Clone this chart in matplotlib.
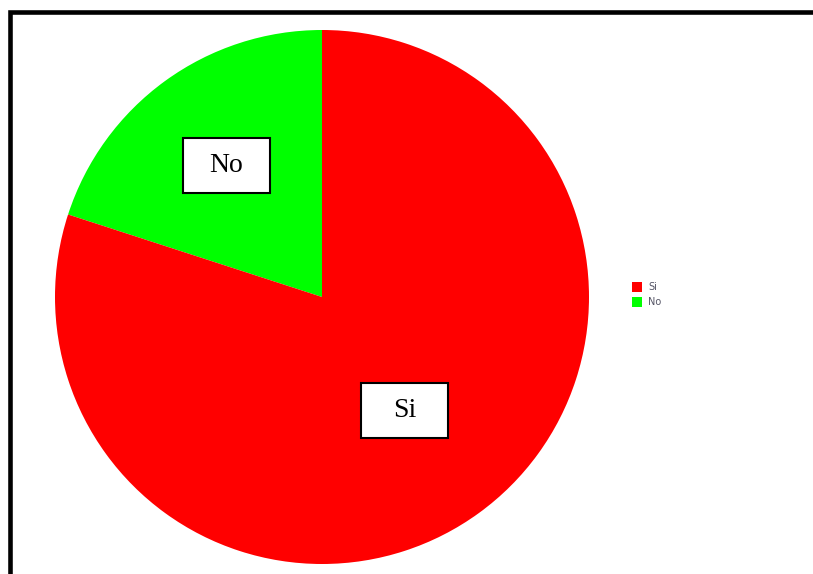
import numpy as np
import matplotlib
matplotlib.use('Agg')
import matplotlib.pyplot as plt
from matplotlib.patches import Rectangle
from matplotlib.lines import Line2D

# data
labels = ['No', 'Si']
values = [20, 80]
colors = ['#00ff00', '#ff0000']
legend_order = ['Si', 'No']
label_dist = [0.61, 0.525]

W, H = 813, 574
fig = plt.figure(figsize=(W / 100., H / 100.), dpi=100)
ax = fig.add_axes([0, 0, 1, 1])

cx, cy, r = 322, H - 297, 267
wedges, _ = ax.pie(values, colors=colors, startangle=90, counterclock=True,
                   center=(cx, cy), radius=r, frame=True,
                   wedgeprops=dict(linewidth=0))
ax.set_xlim(0, W)
ax.set_ylim(0, H)
ax.set_aspect('equal')
ax.axis('off')

# boxed labels at the middle of each wedge
bw, bh = 87, 55
for w, lab, d in zip(wedges, labels, label_dist):
    ang = np.deg2rad((w.theta1 + w.theta2) / 2.)
    x = cx + d * r * np.cos(ang)
    y = cy + d * r * np.sin(ang)
    ax.add_patch(Rectangle((x - bw / 2., y - bh / 2.), bw, bh,
                           facecolor='white', edgecolor='black', linewidth=1.5, zorder=3))
    ax.text(x, y, lab, ha='center', va='center', fontsize=20,
            family='Liberation Serif', zorder=4)

# small legend on the right
handles = [wedges[labels.index(l)] for l in legend_order]
leg = fig.legend(handles, legend_order, loc='upper left',
                 bbox_to_anchor=(627. / W, 1 - 277. / H), frameon=False,
                 fontsize=7, handlelength=1.0, handleheight=1.3,
                 handletextpad=0.7, labelspacing=0.45, borderpad=0)
for t in leg.get_texts():
    t.set_color('#555566')

# frame lines (left and top only visible)
ax.add_line(Line2D([9.5, 9.5, W + 10], [-10, H - 12, H - 12], color='black',
                   linewidth=3.3, clip_on=False, solid_joinstyle='miter'))

fig.savefig('out.png', dpi=100)
